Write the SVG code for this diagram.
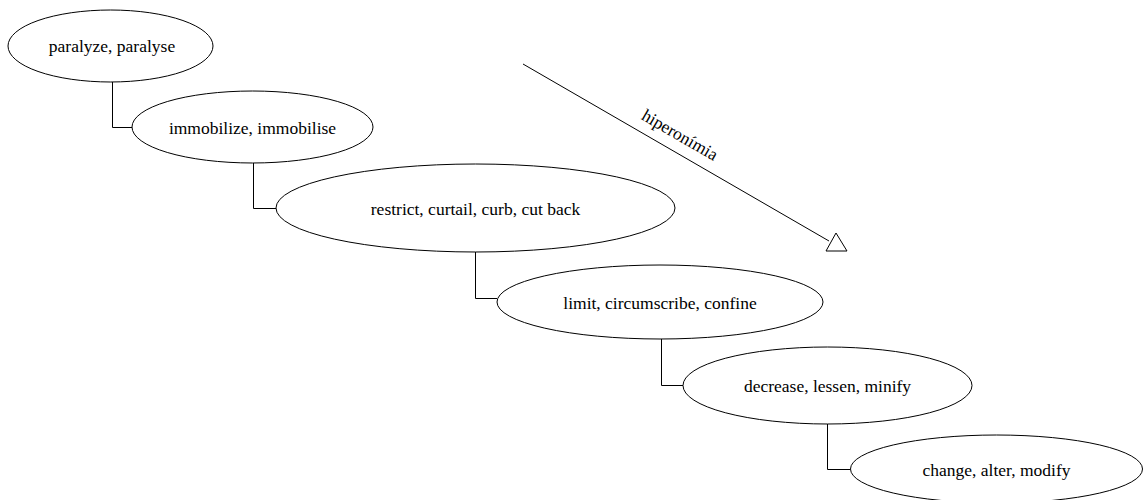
<svg xmlns="http://www.w3.org/2000/svg" width="1143" height="500" viewBox="0 0 1143 500">
  <style>
    .node ellipse { fill: #ffffff; stroke: #000000; stroke-width: 1; }
    .node text { font-family: "Liberation Serif", "Times New Roman", serif; font-size: 17.5px; fill: #000000; text-anchor: middle; }
    .edges path, .edges line, .edges polygon { fill: none; stroke: #000000; stroke-width: 1; }
    .lbl { font-family: "Liberation Serif", "Times New Roman", serif; font-size: 17.5px; fill: #000000; text-anchor: middle; }
  </style>
  <rect width="1143" height="500" fill="#ffffff"/>

  <g class="edges" id="connectors">
    <path d="M112.5,82 V127.5 H132"/>
    <path d="M253.5,163 V208.5 H276"/>
    <path d="M475.5,252 V298.5 H497"/>
    <path d="M661.5,339 V385.5 H683"/>
    <path d="M827.5,424 V469.5 H850"/>
    <line x1="523" y1="64" x2="829" y2="241"/>
    <polygon points="836,233 826,251 847,251"/>
    <text class="lbl" transform="translate(677,140) rotate(30)">hiperonímia</text>
  </g>

  <g class="node" id="n-paralyze">
    <ellipse cx="110.5" cy="46" rx="102.5" ry="36"/>
    <text x="112" y="52">paralyze, paralyse</text>
  </g>
  <g class="node" id="n-immobilize">
    <ellipse cx="252.5" cy="127" rx="120.5" ry="36"/>
    <text x="252.5" y="133.5">immobilize, immobilise</text>
  </g>
  <g class="node" id="n-restrict">
    <ellipse cx="475.5" cy="208" rx="199.5" ry="44"/>
    <text x="475.5" y="214.5">restrict, curtail, curb, cut back</text>
  </g>
  <g class="node" id="n-limit">
    <ellipse cx="660" cy="302" rx="163" ry="37"/>
    <text x="660" y="308.5">limit, circumscribe, confine</text>
  </g>
  <g class="node" id="n-decrease">
    <ellipse cx="827.5" cy="385.5" rx="144.5" ry="38.5"/>
    <text x="827.5" y="392">decrease, lessen, minify</text>
  </g>
  <g class="node" id="n-change">
    <ellipse cx="996.5" cy="469" rx="146" ry="34"/>
    <text x="996.5" y="475.5">change, alter, modify</text>
  </g>
</svg>
